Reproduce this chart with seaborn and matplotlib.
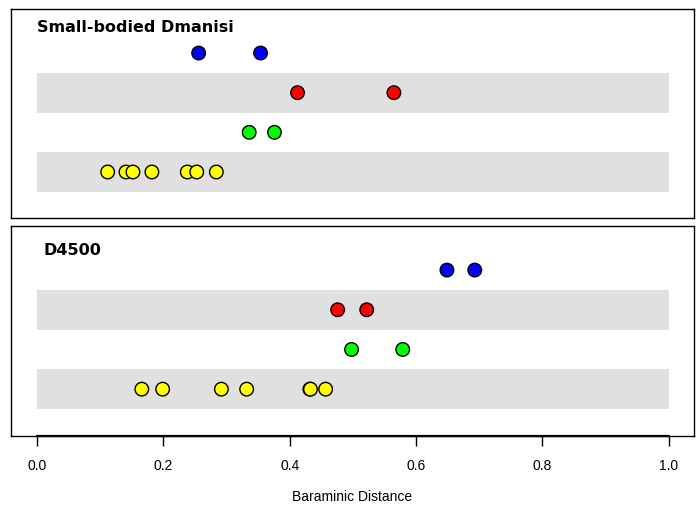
import numpy as np
import pandas as pd
import matplotlib
matplotlib.use("Agg")
import matplotlib.pyplot as plt
import seaborn as sns

sns.set_style("white")
plt.rcParams['font.family'] = ['Liberation Sans', 'DejaVu Sans']
plt.rcParams['text.color'] = 'black'
plt.rcParams['xtick.color'] = 'black'
plt.rcParams['axes.labelcolor'] = 'black'

panels = ["Small-bodied Dmanisi", "D4500"]
groups = ["yellow", "green", "red", "blue"]  # bottom row to top row
group_colors = {"yellow": "#FFFF00", "green": "#00FF00", "red": "#FF0000", "blue": "#0000FF"}

dmanisi_blue = [0.256, 0.354]
dmanisi_red = [0.4125, 0.565]
dmanisi_green = [0.336, 0.376]
dmanisi_yellow = [0.112, 0.141, 0.152, 0.182, 0.238, 0.253, 0.284]

d4500_blue = [0.649, 0.693]
d4500_red = [0.476, 0.522]
d4500_green = [0.498, 0.579]
d4500_yellow = [0.166, 0.199, 0.292, 0.332, 0.432, 0.433, 0.457]

xticks = [0.0, 0.2, 0.4, 0.6, 0.8, 1.0]
xticklabels = ["0.0", "0.2", "0.4", "0.6", "0.8", "1.0"]

data = {
    "Small-bodied Dmanisi": {"yellow": dmanisi_yellow, "green": dmanisi_green,
                             "red": dmanisi_red, "blue": dmanisi_blue},
    "D4500": {"yellow": d4500_yellow, "green": d4500_green,
              "red": d4500_red, "blue": d4500_blue},
}

rows = []
for p in panels:
    for i, g in enumerate(groups):
        for v in data[p][g]:
            rows.append({"panel": p, "group": g, "row": i, "dist": v})
df = pd.DataFrame(rows)

W, H = 697, 510
fig = plt.figure(figsize=(W / 100, H / 100), dpi=100)
boxes = [(11, 10, 694, 219), (11, 227, 694, 437)]
axes = []
for (l, t, r, b) in boxes:
    ax = fig.add_axes([l / W, 1 - b / H, (r - l) / W, (b - t) / H])
    axes.append(ax)

title_y = [3.66, 3.53]
title_x = [0.0, 0.011]
for ax, p, ylim, ty, tx in zip(axes, panels, [(-1.16, 4.11), (-1.18, 4.11)], title_y, title_x):
    # grey bands on alternate rows
    for i in [0, 2]:
        ax.fill_between([0, 1], i - 0.5, i + 0.5, color="#E0E0E0", lw=0, zorder=0)
    sub = df[df["panel"] == p]
    sns.scatterplot(data=sub, x="dist", y="row", hue="group", palette=group_colors,
                    s=95, edgecolor="black", linewidth=1.0, legend=False, ax=ax, zorder=3)
    ax.set_xlim(-0.041, 1.040)
    ax.set_ylim(*ylim)
    ax.set_yticks([])
    ax.set_ylabel("")
    ax.set_xlabel("")
    for s in ax.spines.values():
        s.set_color("black")
        s.set_linewidth(1.0)
    ax.text(tx, ty, p, fontsize=11.5, fontweight="bold", color="black",
            ha="left", va="center", family=['DejaVu Sans'])

axes[0].set_xticks([])
ax = axes[1]
ax.set_xticks(xticks)
ax.set_xticklabels(xticklabels, fontsize=10)
ax.tick_params(axis="x", direction="out", length=7, width=1, pad=9, bottom=True)
ax.plot([0, 1], [ax.get_ylim()[0]] * 2, color="black", lw=1.6, clip_on=False, zorder=5)
ax.set_xlabel("Baraminic Distance", fontsize=10, labelpad=12)

fig.savefig("out.png", dpi=100)
